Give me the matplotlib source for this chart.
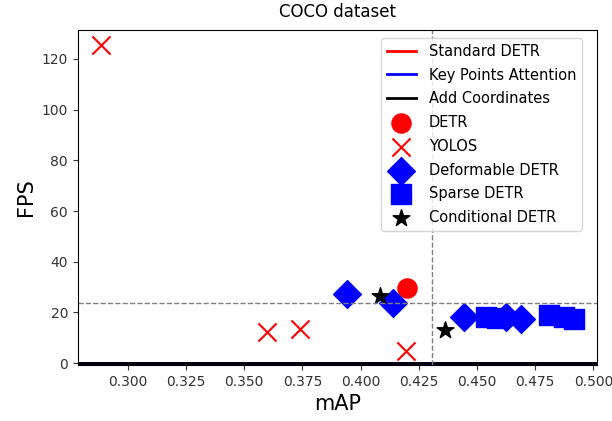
import matplotlib
matplotlib.use('Agg')
import matplotlib.pyplot as plt

# データ
detr_map = [0.420]
detr_fps = [29.5]

yolos_map = [0.2887, 0.360, 0.3738, 0.4197]
yolos_fps = [125.5, 12.3, 13.5, 5.0]

deform_map = [0.394, 0.4139, 0.4444, 0.4626, 0.4688]
deform_fps = [27.2, 23.6, 18.4, 18.4, 17.3]

sparse_map = [0.4537, 0.4587, 0.4809, 0.4874, 0.4917]
sparse_fps = [18.2, 17.9, 19.0, 18.2, 17.5]

cond_map = [0.4083, 0.4361]
cond_fps = [26.6, 13.1]

ref_map = 0.4305
ref_fps = 23.6

fig = plt.figure(figsize=(6.12, 4.21), dpi=100)
ax = fig.add_axes([0.127, 0.133, 0.849, 0.796])

# 凡例用の線
ax.axhline(0, color='red', linewidth=2.0, label='Standard DETR')
ax.axhline(0, color='blue', linewidth=2.0, label='Key Points Attention')
ax.axhline(0, color='black', linewidth=2.0, label='Add Coordinates')

# 基準線
ax.axvline(ref_map, color='gray', linestyle='--', linewidth=1)
ax.axhline(ref_fps, color='gray', linestyle='--', linewidth=1)

# 散布図
ax.scatter(detr_map, detr_fps, color='red', marker='o', s=190, label='DETR')
ax.scatter(yolos_map, yolos_fps, color='red', marker='x', s=170, linewidths=1.5, label='YOLOS')
ax.scatter(deform_map, deform_fps, color='blue', marker='D', s=200, label='Deformable DETR')
ax.scatter(sparse_map, sparse_fps, color='blue', marker='s', s=190, label='Sparse DETR')
ax.scatter(cond_map, cond_fps, color='black', marker='*', s=160, label='Conditional DETR')

ax.set_xlim(0.2785, 0.5017)
ax.set_ylim(-0.7, 131.4)
ax.set_xticks([0.300, 0.325, 0.350, 0.375, 0.400, 0.425, 0.450, 0.475, 0.500])
ax.set_xticklabels(['0.300', '0.325', '0.350', '0.375', '0.400', '0.425', '0.450', '0.475', '0.500'])
ax.set_yticks([0, 20, 40, 60, 80, 100, 120])
ax.tick_params(labelsize=10, colors='#333333')

ax.set_title('COCO dataset', fontsize=12, pad=9)
ax.set_xlabel('mAP', fontsize=15)
ax.set_ylabel('FPS', fontsize=15)
ax.legend(loc='upper right', bbox_to_anchor=(0.971, 0.976), borderaxespad=0,
          fontsize=10.5, labelspacing=0.6, handletextpad=0.9)

fig.savefig('out.png', dpi=100)
